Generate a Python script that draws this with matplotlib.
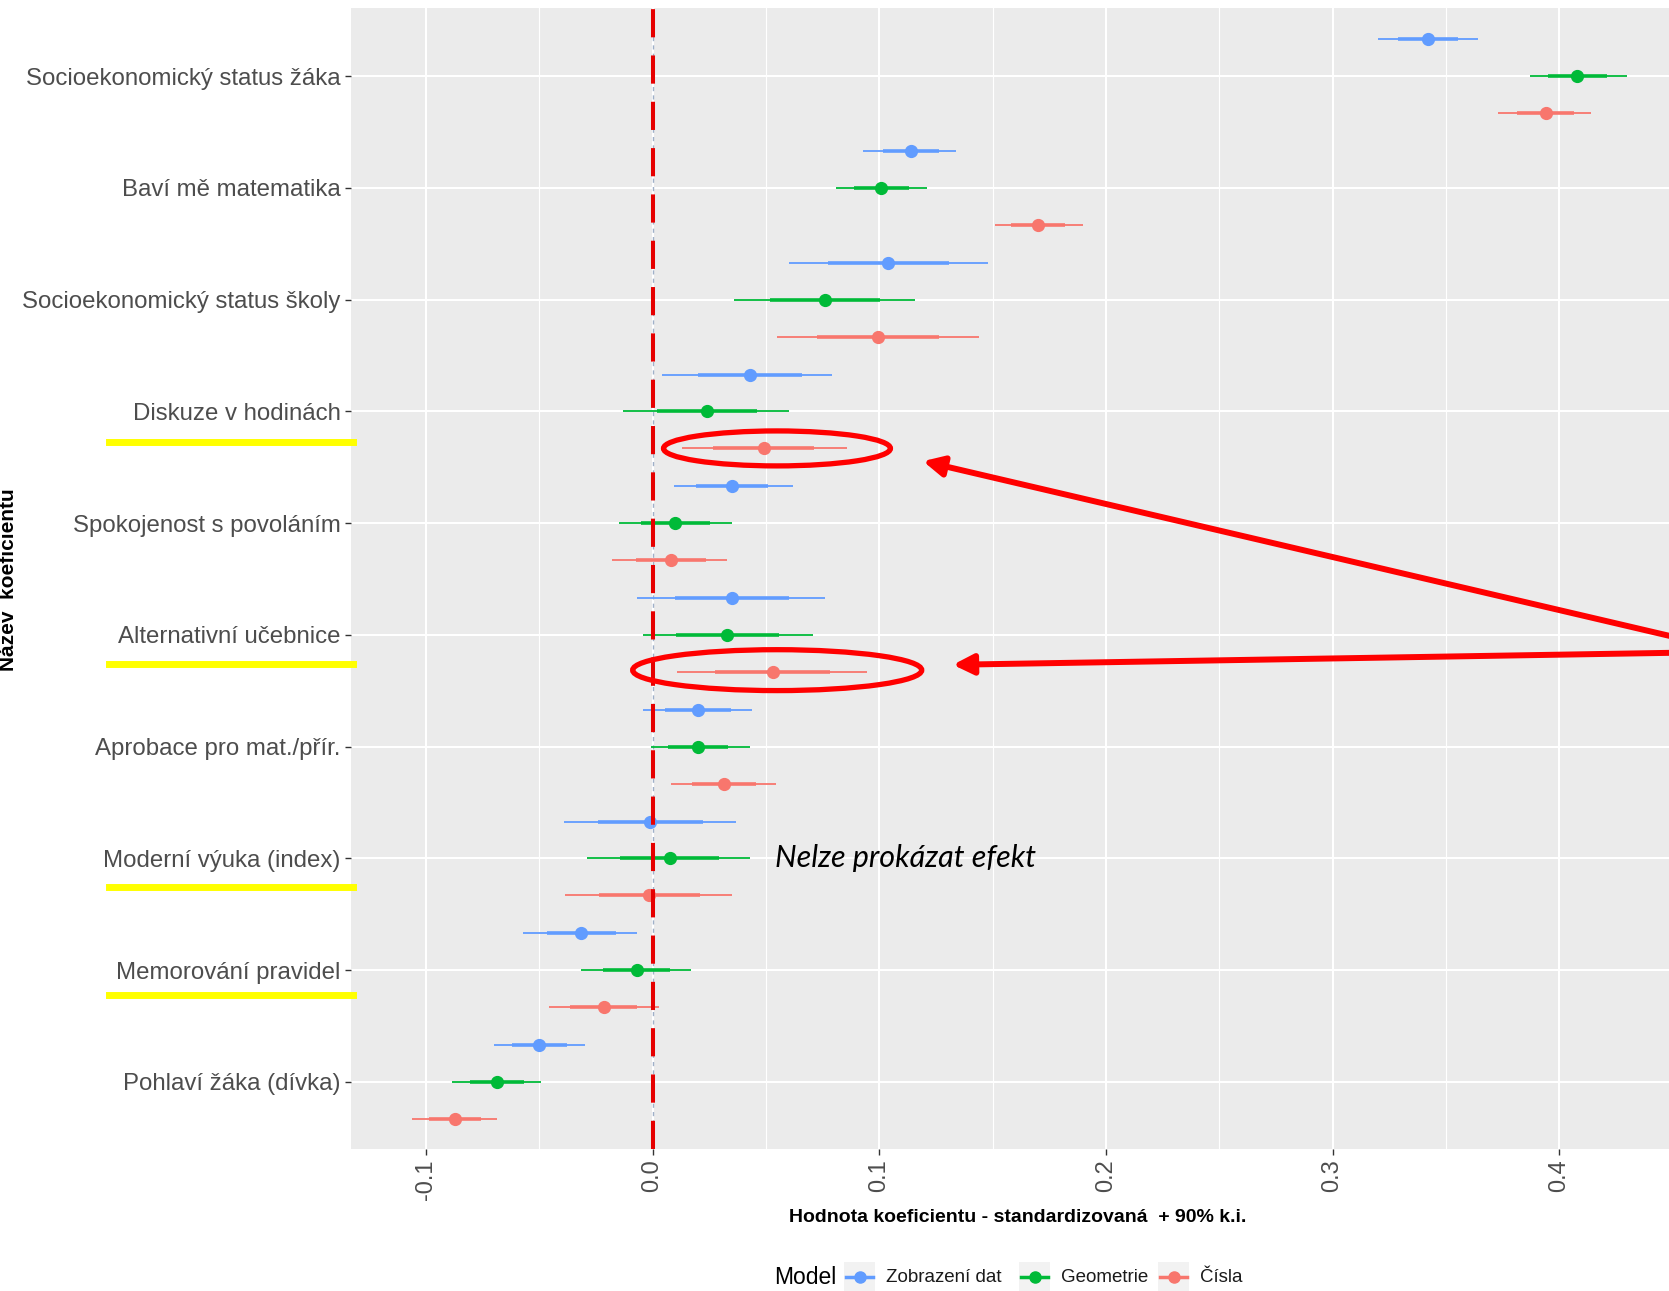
import numpy as np
import matplotlib
matplotlib.use('Agg')
import matplotlib.pyplot as plt
from matplotlib.patches import Ellipse, Rectangle
from matplotlib.lines import Line2D
import matplotlib.transforms as mtransforms

plt.rcParams['font.family'] = ['Liberation Sans', 'DejaVu Sans']
NARROW = ['Liberation Sans Narrow', 'Liberation Sans', 'DejaVu Sans']

# nazvy koeficientu (shora dolu)
koeficienty = ['Socioekonomický status žáka', 'Baví mě matematika', 'Socioekonomický status školy',
               'Diskuze v hodinách', 'Spokojenost s povoláním', 'Alternativní učebnice',
               'Aprobace pro mat./přír.', 'Moderní výuka (index)', 'Memorování pravidel',
               'Pohlaví žáka (dívka)']

modely = ['Zobrazení dat', 'Geometrie', 'Čísla']
barvy = ['#619CFF', '#00BA38', '#F8766D']

# odhad a 90% interval spolehlivosti
zobrazeni_est = [0.342, 0.114, 0.104, 0.043, 0.035, 0.035, 0.020, -0.001, -0.0315, -0.050]
zobrazeni_lo = [0.320, 0.093, 0.060, 0.004, 0.0095, -0.007, -0.004, -0.039, -0.057, -0.070]
zobrazeni_hi = [0.364, 0.134, 0.148, 0.079, 0.062, 0.076, 0.044, 0.037, -0.007, -0.030]

geometrie_est = [0.408, 0.101, 0.076, 0.024, 0.010, 0.033, 0.020, 0.0075, -0.007, -0.0685]
geometrie_lo = [0.387, 0.081, 0.036, -0.013, -0.015, -0.004, -0.0005, -0.029, -0.0315, -0.0885]
geometrie_hi = [0.430, 0.121, 0.116, 0.060, 0.035, 0.071, 0.043, 0.043, 0.017, -0.049]

cisla_est = [0.394, 0.170, 0.0995, 0.049, 0.008, 0.053, 0.0315, -0.0014, -0.0216, -0.087]
cisla_lo = [0.373, 0.151, 0.055, 0.013, -0.018, 0.011, 0.008, -0.0385, -0.0455, -0.106]
cisla_hi = [0.414, 0.190, 0.144, 0.086, 0.033, 0.0945, 0.0545, 0.035, 0.003, -0.0685]

odhady = [zobrazeni_est, geometrie_est, cisla_est]
dolni = [zobrazeni_lo, geometrie_lo, cisla_lo]
horni = [zobrazeni_hi, geometrie_hi, cisla_hi]

W, H = 1669, 1291
fig = plt.figure(figsize=(W / 100, H / 100), dpi=100)
ax = fig.add_axes([351 / W, 1 - 1149 / H, (1684 - 351) / W, (1149 - 8) / H])
ax.set_facecolor('#EBEBEB')
for s in ax.spines.values():
    s.set_visible(False)

y = np.arange(len(koeficienty))
posun = [-0.33, 0.0, 0.33]

for i in range(3):
    est = np.array(odhady[i])
    lo = np.array(dolni[i])
    hi = np.array(horni[i])
    yy = y + posun[i]
    # vnitrni (tlustsi) interval ~ +-1 SE
    se = (hi - lo) / 2 / 1.645
    ax.hlines(yy, lo, hi, color=barvy[i], lw=1.3, zorder=3)
    ax.hlines(yy, est - se, est + se, color=barvy[i], lw=2.6, zorder=3)
    ax.plot(est, yy, 'o', color=barvy[i], ms=8.5, zorder=4)

# nula
ax.axvline(0, color='#9FB0C8', lw=1, ls=(0, (3, 3)), zorder=2)
ax.axvline(0, color='#E60000', lw=2.9, ls=(0, (7, 4.5)), zorder=5)

ax.set_xlim(-0.133, 0.455)
ax.set_ylim(9.6, -0.61)
xt = [-0.1, 0.0, 0.1, 0.2, 0.3, 0.4]
ax.set_xticks(xt)
ax.set_xticklabels([f'{v:.1f}' for v in xt], rotation=90, color='#4D4D4D', fontsize=17)
ax.set_xticks([-0.05, 0.05, 0.15, 0.25, 0.35, 0.45], minor=True)
ax.set_yticks(y)
ax.set_yticklabels(koeficienty, color='#4D4D4D', fontsize=17.3)
ax.tick_params(axis='both', which='major', length=4.5, width=1, color='#333333', pad=3)
ax.tick_params(axis='x', which='minor', length=0)
ax.grid(which='major', color='white', lw=1.5, zorder=0)
ax.grid(which='minor', axis='x', color='white', lw=0.8, zorder=0)
ax.set_axisbelow(True)

# popisky os
fig.text(1018 / W, 1 - 1217 / H, 'Hodnota koeficientu - standardizovaná  + 90% k.i.',
         family=NARROW, fontweight='bold', fontsize=14, ha='center', va='center')
fig.text(9 / W, 1 - 580 / H, 'Název  koeficientu', family=NARROW, fontweight='bold',
         fontsize=15, rotation=90, ha='center', va='center')

# legenda
fig.text(774 / W, 1 - 1277 / H, 'Model', family=NARROW, fontsize=16.5, ha='left', va='center')
klic_x = [844, 1019, 1158]
for i in range(3):
    x0 = klic_x[i]
    fig.add_artist(Rectangle((x0 / W, 1 - 1293 / H), 31 / W, 31 / H,
                             transform=fig.transFigure, color='#F2F2F2', lw=0))
    fig.add_artist(Line2D([(x0 + 2) / W, (x0 + 29) / W], [1 - 1277 / H] * 2,
                          transform=fig.transFigure, color=barvy[i], lw=2.5))
    fig.add_artist(Line2D([(x0 + 15.5) / W], [1 - 1277 / H], transform=fig.transFigure,
                          marker='o', ms=8, color=barvy[i]))
    fig.text((x0 + 42) / W, 1 - 1277 / H, modely[i], family=NARROW, fontsize=13.5,
             ha='left', va='center', color='#1A1A1A')

# rucni zvyrazneni
trans = mtransforms.blended_transform_factory(fig.transFigure, ax.transData)
for yz in [3.27, 5.26, 7.26, 8.22]:
    fig.add_artist(Line2D([109 / W, 353 / W], [yz, yz], transform=trans, color='#FFFF00', lw=5))

ax.add_patch(Ellipse((0.0549, 3.331), 0.1001, 0.313, fill=False, ec='#FF0000', lw=3.8, zorder=6))
ax.add_patch(Ellipse((0.055, 5.315), 0.1275, 0.366, fill=False, ec='#FF0000', lw=3.8, zorder=6))

sipka = dict(arrowstyle='-|>,head_length=0.4,head_width=0.2', mutation_scale=30,
             color='#FF0000', lw=4.3, shrinkA=0, shrinkB=0)
ax.annotate('', xy=(0.1193, 3.445), xytext=(0.47, 5.11), arrowprops=sipka, zorder=6)
ax.annotate('', xy=(0.1325, 5.267), xytext=(0.47, 5.153), arrowprops=sipka, zorder=6)

ax.text(0.0542, 7.0, 'Nelze prokázat efekt', family=['Lato', 'DejaVu Sans'], style='italic',
        fontsize=22, ha='left', va='center', color='black', zorder=6)

fig.savefig('out.png', dpi=100)
